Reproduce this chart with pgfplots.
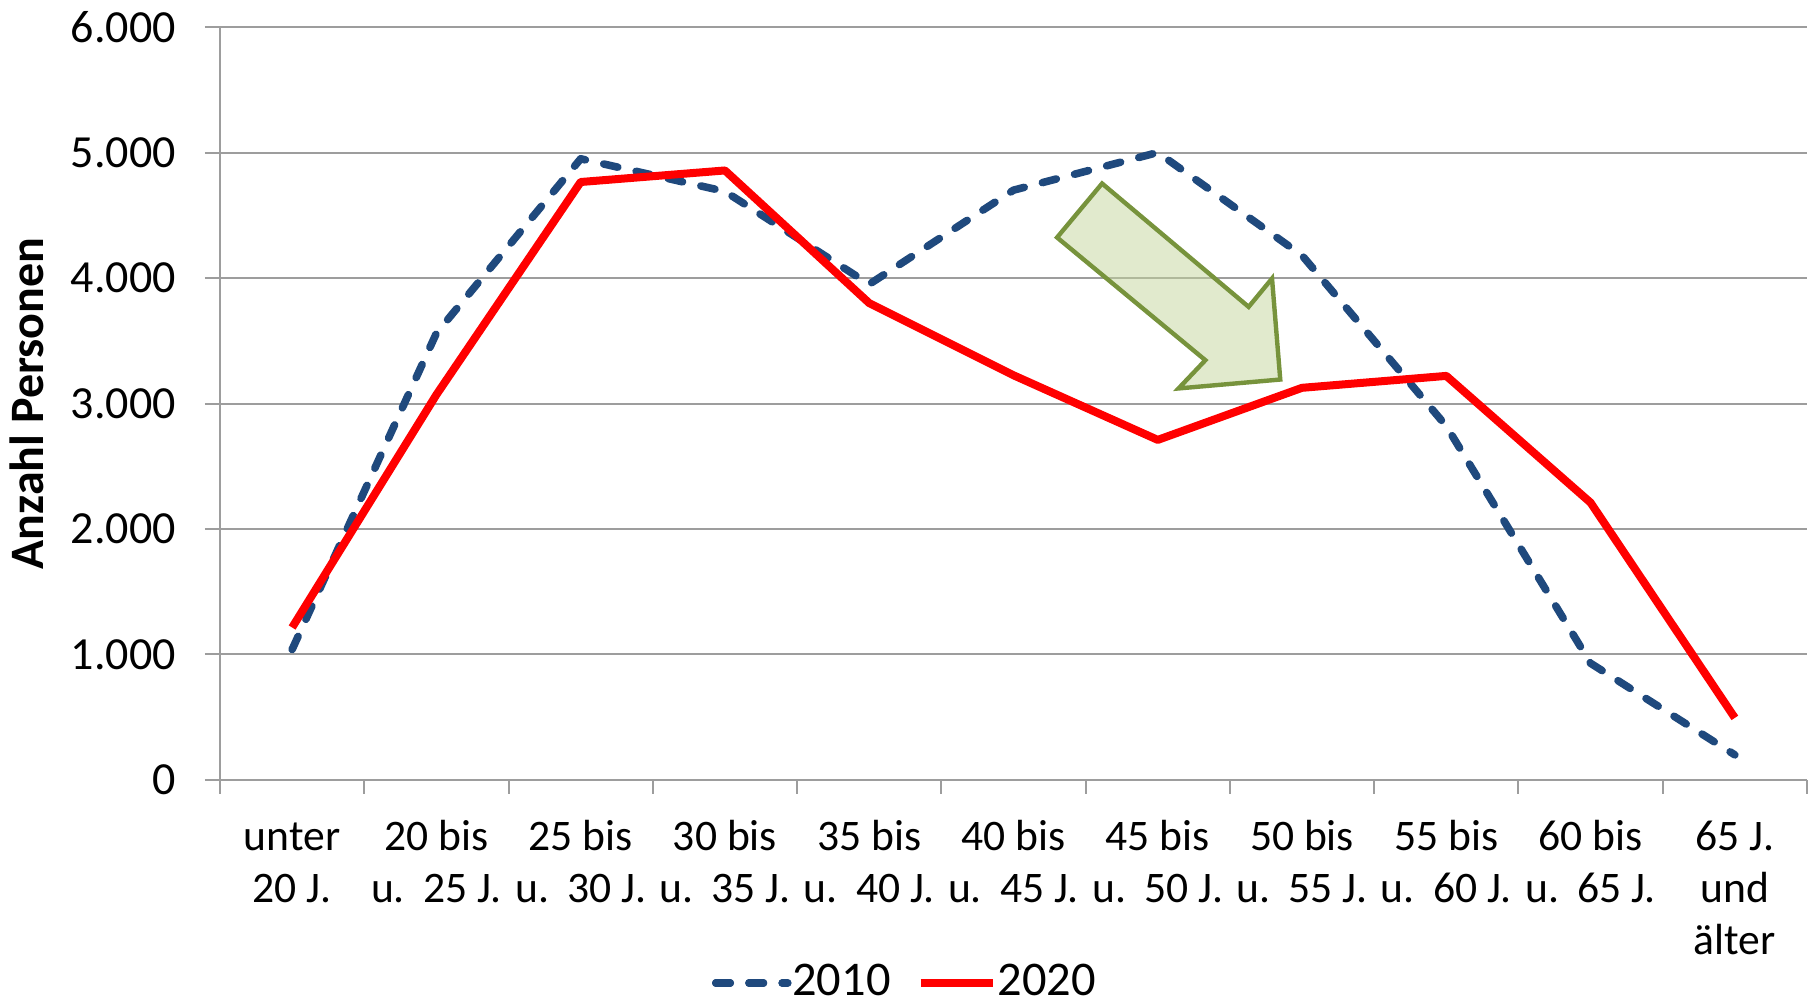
\documentclass[border=0pt]{standalone}
\usepackage{pgfplots}
\pgfplotsset{compat=1.18}
\usepackage{fontspec}
\setmainfont{Carlito}
\definecolor{darkblue}{HTML}{1F497D}
\definecolor{gridgray}{HTML}{9D9D9D}
\definecolor{arrowgreen}{HTML}{77933C}
\definecolor{arrowfill}{HTML}{C3D69B}
\pgfplotstableread{
x y
0 1040
1 3560
2 4950
3 4690
4 3950
5 4700
6 5000
7 4180
8 2820
9 930
10 200
}\dataA
\pgfplotstableread{
x y
0 1215
1 3070
2 4765
3 4857
4 3800
5 3225
6 2710
7 3125
8 3220
9 2210
10 495
}\dataB
\begin{document}
\begin{tikzpicture}
\begin{axis}[
  name=ax, at={(0,0)}, anchor=south west,
  scale only axis, width=396.75pt, height=188.25pt,
  xmin=-0.5, xmax=10.5, ymin=0, ymax=6000,
  axis x line=bottom, axis y line=left,
  axis line style={draw=gridgray, line width=0.5pt, -},
  ytick={0,1000,...,6000},
  ymajorgrids, grid style={draw=gridgray, line width=0.5pt},
  tick align=outside,
  major tick length=3.75pt,
  minor tick length=3.5pt,
  tick style={draw=gridgray, line width=0.5pt},
  xtick={0,...,10},
  major x tick style={draw=none},
  minor xtick={-0.5,0.5,...,10.5},
  xticklabels={{\strut unter\\20 J.},{\strut 20 bis\\u.\hspace{0.42em}25 J.},{\strut 25 bis\\u.\hspace{0.42em}30 J.},{\strut 30 bis\\u.\hspace{0.42em}35 J.},{\strut 35 bis\\u.\hspace{0.42em}40 J.},{\strut 40 bis\\u.\hspace{0.42em}45 J.},{\strut 45 bis\\u.\hspace{0.42em}50 J.},{\strut 50 bis\\u.\hspace{0.42em}55 J.},{\strut 55 bis\\u.\hspace{0.42em}60 J.},{\strut 60 bis\\u.\hspace{0.42em}65 J.},{\strut 65 J.\\und\\älter}},
  x tick label style={align=center, anchor=north, inner sep=0pt, yshift=-4.6pt, font=\fontsize{10.9}{13}\selectfont},
  y tick label style={anchor=east, inner sep=0pt, xshift=-7.1pt, font=\fontsize{11.5}{13}\selectfont},
  /pgf/number format/1000 sep={.},
  /pgf/number format/assume math mode=true,
  ylabel={Anzahl Personen},
  ylabel style={font=\bfseries\fontsize{12}{14}\selectfont, at={(axis description cs:-0.122,0.5)}, anchor=center},
  legend columns=2,
  legend style={draw=none, fill=none, at={(axis description cs:0.433,-0.2696)}, anchor=center, font=\fontsize{12.1}{14}\selectfont, nodes={inner xsep=1.6pt}, /tikz/every even column/.append style={column sep=5pt}},
  legend image code/.code={\path (0pt,0pt) -- (16.6pt,0pt); \draw[#1,overlay] (0pt,0pt) -- (18pt,0pt);},
]
\addplot[darkblue, line width=1.9pt, line cap=round, line join=round, dash pattern=on 3.6pt off 4.7pt] table[x=x,y=y]{\dataA};
\addplot[red, line width=2pt, line join=round] table[x=x,y=y]{\dataB};
\legend{2010,2020}
\addplot[forget plot, draw=arrowgreen, line width=1.1pt, fill=arrowfill, fill opacity=0.5, line join=miter] coordinates {(5.614,4753) (6.630,3770) (6.792,3996) (6.849,3191) (6.144,3120) (6.330,3345) (5.302,4323)} -- cycle;
\end{axis}
\pgfresetboundingbox
\path[use as bounding box] (-55pt,-56pt) rectangle (398.5pt,195pt);
\end{tikzpicture}
\end{document}
